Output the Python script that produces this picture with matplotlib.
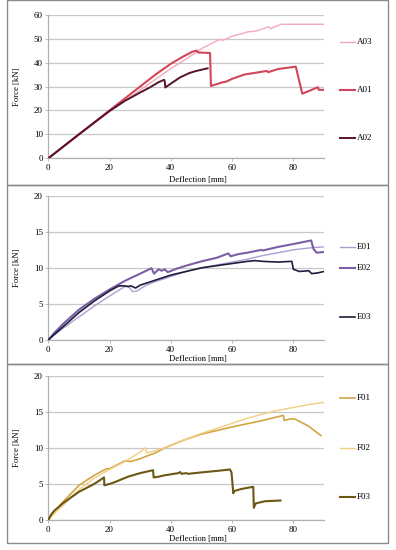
import matplotlib
matplotlib.use('Agg')
import matplotlib.pyplot as plt
from matplotlib.patches import Rectangle
from matplotlib.lines import Line2D

plt.rcParams['font.family'] = ['Liberation Serif', 'DejaVu Serif']
plt.rcParams['font.size'] = 6

# ---- data (deflection mm, force kN) ----
a03_x = [0, 10, 20, 30, 35, 40, 45, 48, 50, 53, 56, 57, 60, 63, 65, 68, 72, 72.5, 74, 76, 90]
a03_y = [0, 10, 19.5, 28.5, 33, 37.5, 41.5, 44, 45.8, 47.8, 49.7, 49.3, 51, 52, 52.8, 53.2, 55, 54.1, 55, 56, 56]
a01_x = [0, 10, 20, 25, 30, 35, 40, 44, 47, 48.3, 49, 52.8, 53.1, 55, 57, 58, 60, 64, 68, 71.3, 71.8, 75, 80.8, 82.9, 86, 88, 88.3, 90]
a01_y = [0, 10, 20, 25, 30, 35, 39.5, 42.5, 44.5, 45, 44.2, 44, 30.2, 31, 31.8, 32, 33.2, 35, 35.8, 36.5, 36.0, 37.3, 38.3, 27.0, 28.6, 29.7, 28.6, 28.6]
a02_x = [0, 10, 20, 25, 30, 33, 36, 37.8, 38.0, 38.2, 40, 43, 46, 48, 50, 52]
a02_y = [0, 10, 19.8, 24, 27.5, 29.5, 31.8, 32.8, 32.3, 29.6, 31.2, 33.8, 35.6, 36.4, 37, 37.6]

e01_x = [0, 5, 10, 15, 20, 25, 26, 27.5, 29, 32, 35, 40, 45, 50, 55, 60, 65, 70, 75, 80, 86, 90]
e01_y = [0, 1.7, 3.2, 4.7, 6.1, 7.4, 7.5, 6.7, 6.8, 7.6, 8.1, 8.8, 9.5, 10.0, 10.4, 10.8, 11.2, 11.7, 12.1, 12.5, 12.8, 12.9]
e02_x = [0, 2, 5, 10, 15, 20, 25, 30, 33.7, 34.5, 36, 37, 38, 39, 42, 45, 50, 55, 58.8, 59.5, 62, 65, 69.6, 70, 75, 80, 85.8, 86.6, 87.6, 90]
e02_y = [0, 1.0, 2.3, 4.2, 5.7, 7.0, 8.2, 9.2, 9.95, 9.2, 9.8, 9.6, 9.8, 9.4, 9.9, 10.3, 10.9, 11.4, 12.0, 11.6, 11.9, 12.1, 12.5, 12.4, 12.9, 13.3, 13.8, 12.6, 12.1, 12.2]
e03_x = [0, 2, 5, 10, 15, 20, 23, 25, 26, 27, 28.5, 30, 35, 40, 45, 50, 55, 60, 65, 67.5, 70, 75, 79.5, 80, 82, 85, 86, 88, 90]
e03_y = [0, 0.8, 1.9, 3.8, 5.4, 6.8, 7.5, 7.5, 7.4, 7.5, 7.2, 7.6, 8.3, 9.0, 9.5, 10.0, 10.3, 10.6, 10.9, 11.0, 10.9, 10.8, 10.9, 9.8, 9.5, 9.6, 9.2, 9.3, 9.5]

f01_x = [0, 2, 5, 10, 15, 19, 20, 25, 27, 30, 33, 35, 38, 45, 50, 60, 70, 76.7, 77, 79, 80.5, 85, 89]
f01_y = [0, 1.2, 2.6, 4.8, 6.2, 7.1, 7.1, 8.2, 8.1, 8.5, 9.0, 9.3, 10.0, 11.2, 11.9, 12.9, 13.8, 14.5, 13.8, 14.0, 14.0, 13.0, 11.7]
f02_x = [0, 2, 5, 10, 15, 20, 25, 30, 31.6, 32.1, 35, 40, 45, 50, 55, 60, 65, 70, 75, 80, 85, 90]
f02_y = [0, 0.9, 2.1, 4.2, 5.8, 7.0, 8.1, 9.4, 10.0, 9.3, 9.6, 10.3, 11.2, 12.0, 12.7, 13.4, 14.1, 14.7, 15.2, 15.6, 16.0, 16.3]
f03_x = [0, 1, 2, 5, 10, 15, 18.2, 18.3, 20, 22, 26, 30, 34.2, 34.4, 36, 38, 42.5, 43, 43.5, 45, 45.7, 50, 55, 59.3, 59.8, 60.4, 60.6, 63, 66.9, 67.1, 67.7, 70.7, 75.8]
f03_y = [0, 0.8, 1.3, 2.4, 3.9, 5.0, 5.9, 4.8, 5.0, 5.3, 6.0, 6.5, 6.9, 5.9, 6.0, 6.2, 6.5, 6.65, 6.4, 6.5, 6.4, 6.6, 6.8, 7.0, 6.6, 3.7, 4.0, 4.3, 4.6, 1.7, 2.3, 2.6, 2.7]

x_ticks = [0, 20, 40, 60, 80]

# panels: (series in legend order, y max, y step)
panels = [
    ([('A03', a03_x, a03_y, '#f2a9b8', 1.0), ('A01', a01_x, a01_y, '#d2455a', 1.5), ('A02', a02_x, a02_y, '#55142a', 1.4)], 60, 10),
    ([('E01', e01_x, e01_y, '#ab9fd2', 1.0), ('E02', e02_x, e02_y, '#7c5ea6', 1.5), ('E03', e03_x, e03_y, '#1e1e3c', 1.2)], 20, 5),
    ([('F01', f01_x, f01_y, '#d2a443', 1.2), ('F02', f02_x, f02_y, '#f3cd82', 1.0), ('F03', f03_x, f03_y, '#6c5814', 1.5)], 20, 5),
]

# ---- layout in pixels ----
W, H = 396, 550
fig = plt.figure(figsize=(W / 100, H / 100), dpi=100)

ax_left, ax_right = 48.3, 324
ax_tops = [14.7, 195.7, 375.7]
ax_bots = [158.3, 340, 520]
boxes = [(0, 185), (185, 364), (364, 543)]
leg_y = [[41.7, 90, 137.7], [246.7, 268.3, 316.7], [398.3, 447.7, 496.7]]
xlab_y = [-0.123, -0.104, -0.104]

for i, (series, ymax, ystep) in enumerate(panels):
    top, bot = ax_tops[i], ax_bots[i]
    ax = fig.add_axes([ax_left / W, 1 - bot / H, (ax_right - ax_left) / W, (bot - top) / H])

    for name, xs, ys, col, lw in series:
        ax.plot(xs, ys, color=col, lw=lw, zorder=3)

    ax.set_xlim(0, 90)
    ax.set_ylim(0, ymax)
    ax.set_xticks(x_ticks)
    ax.set_yticks(range(0, ymax + 1, ystep))
    ax.grid(axis='y', color='#c8c8c8', lw=0.9)
    ax.set_axisbelow(True)
    for s in ['top', 'right']:
        ax.spines[s].set_visible(False)
    for s in ['left', 'bottom']:
        ax.spines[s].set_color('#b0b0b0')
        ax.spines[s].set_linewidth(0.9)
    ax.tick_params(length=2, width=0.6, color='#b0b0b0', pad=2, labelsize=6.5)

    ax.set_xlabel('Deflection [mm]', fontsize=6.2, va='top')
    ax.xaxis.set_label_coords(0.541, xlab_y[i])
    ax.set_ylabel('Force [kN]', fontsize=6.2)
    ax.yaxis.set_label_coords(-0.1, 0.5)

    # legend entries
    for (name, xs, ys, col, lw), ly in zip(series, leg_y[i]):
        yf = 1 - ly / H
        fig.add_artist(Line2D([340 / W, 355 / W], [yf, yf], color=col, lw=lw, transform=fig.transFigure))
        fig.text(357 / W, yf, name, fontsize=6.5, va='center', ha='left')

    # panel frame
    b0, b1 = boxes[i]
    fig.add_artist(Rectangle((7 / W, 1 - b1 / H), (388 - 7) / W, (b1 - b0) / H,
                             transform=fig.transFigure, fill=False, ec='#8c8c8c', lw=1.0))

fig.savefig('out.png', dpi=100)
